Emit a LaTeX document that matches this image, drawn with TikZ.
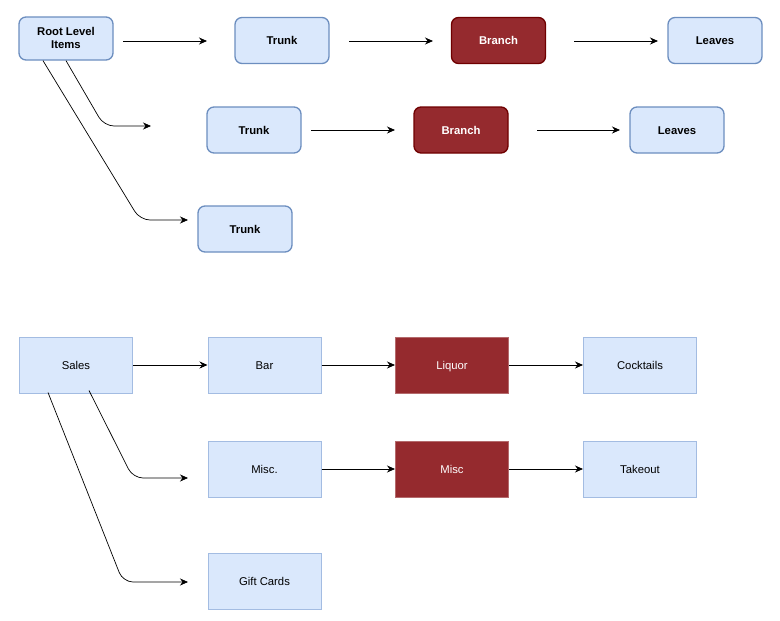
\documentclass[tikz,border=0pt]{standalone}
\usepackage{fontspec}
\setmainfont{Liberation Sans}
\usepackage{xcolor}
\usetikzlibrary{positioning,arrows.meta,calc}

\definecolor{boxfill}{HTML}{DAE8FC}
\definecolor{boxline}{HTML}{6C8EBF}
\definecolor{boxlinelight}{HTML}{A3BCE2}
\definecolor{redfill}{HTML}{952A2E}
\definecolor{redline}{HTML}{6F0000}
\definecolor{redlinelight}{HTML}{B46A6C}

\tikzset{
  treebox/.style={rectangle, rounded corners=7pt, line width=1.3pt, draw=boxline, fill=boxfill,
    minimum width=94pt, minimum height=46pt, inner sep=0pt, align=center,
    text depth=0.5pt, font=\fontsize{11.3}{13}\selectfont\bfseries},
  branchbox/.style={treebox, draw=redline, fill=redfill, text=white},
  salesbox/.style={rectangle, line width=1pt, draw=boxlinelight, fill=boxfill,
    minimum width=113pt, minimum height=56pt, inner sep=0pt,
    text height=8pt, text depth=0pt, font=\fontsize{11.3}{13}\selectfont},
  liquorbox/.style={salesbox, draw=redlinelight, fill=redfill, text=white},
  link/.style={->, line width=0.8pt, >={Stealth[length=8pt,width=7pt]}}
}

\begin{document}
\begin{tikzpicture}[x=1pt,y=-1pt]
\useasboundingbox (0,0) rectangle (780,621);

\node[treebox, minimum height=43pt] (root) at (66,38.5) {Root Level\\Items};
\node[treebox, text height=8pt, text depth=0pt] (trunkA) at (282,40.5) {Trunk};
\node[branchbox, text height=8pt, text depth=0pt] (branchA) at (498.5,40.5) {Branch};
\node[treebox, text height=8pt, text depth=0pt] (leavesA) at (715,40.5) {Leaves};
\node[treebox, text height=8pt, text depth=0pt] (trunkB) at (254,130) {Trunk};
\node[branchbox, text height=8pt, text depth=0pt] (branchB) at (461,130) {Branch};
\node[treebox, text height=8pt, text depth=0pt] (leavesB) at (677,130) {Leaves};
\node[treebox, text height=8pt, text depth=0pt] (trunkC) at (245,229) {Trunk};

\coordinate (a1) at (123,41);
\coordinate (a2) at (207,41);
\coordinate (a3) at (349,41);
\coordinate (a4) at (433,41);
\coordinate (a5) at (574,41);
\coordinate (a6) at (658,41);
\coordinate (b1) at (311,130);
\coordinate (b2) at (395,130);
\coordinate (b3) at (537,130);
\coordinate (b4) at (620,130);
\coordinate (c1) at (151,126);
\coordinate (c2) at (188,220);

\draw[link] (a1) -- (a2);
\draw[link] (a3) -- (a4);
\draw[link] (a5) -- (a6);
\draw[link] (b1) -- (b2);
\draw[link] (b3) -- (b4);
\draw[link, line width=0.7pt, rounded corners=10pt] (root.south) -- (104,126) -- (c1);
\draw[link, line width=0.7pt, rounded corners=10pt] ([xshift=-23pt]root.south) -- (140,220) -- (c2);

\node[salesbox] (sales) at (76,365) {Sales};
\node[salesbox] (bar) at (264.5,365) {Bar};
\node[liquorbox] (liquor) at (452,365) {Liquor};
\node[salesbox] (cocktails) at (640,365) {Cocktails};
\node[salesbox] (miscA) at (264.5,469) {Misc.};
\node[liquorbox] (miscB) at (452,469) {Misc};
\node[salesbox] (takeout) at (640,469) {Takeout};
\node[salesbox] (gift) at (264.5,581.5) {Gift Cards};

\coordinate (d1) at (188,478);
\coordinate (d2) at (188,582);

\draw[link] (sales) -- (bar);
\draw[link] (bar) -- (liquor);
\draw[link] (liquor) -- (cocktails);
\draw[link] (miscA) -- (miscB);
\draw[link] (miscB) -- (takeout);
\draw[link, line width=0.7pt, rounded corners=10pt] ([xshift=13pt,yshift=3pt]sales.south) -- (133,478) -- (d1);
\draw[link, line width=0.7pt, rounded corners=10pt] ([xshift=-28pt,yshift=1pt]sales.south) -- (123,582) -- (d2);
\end{tikzpicture}
\end{document}
